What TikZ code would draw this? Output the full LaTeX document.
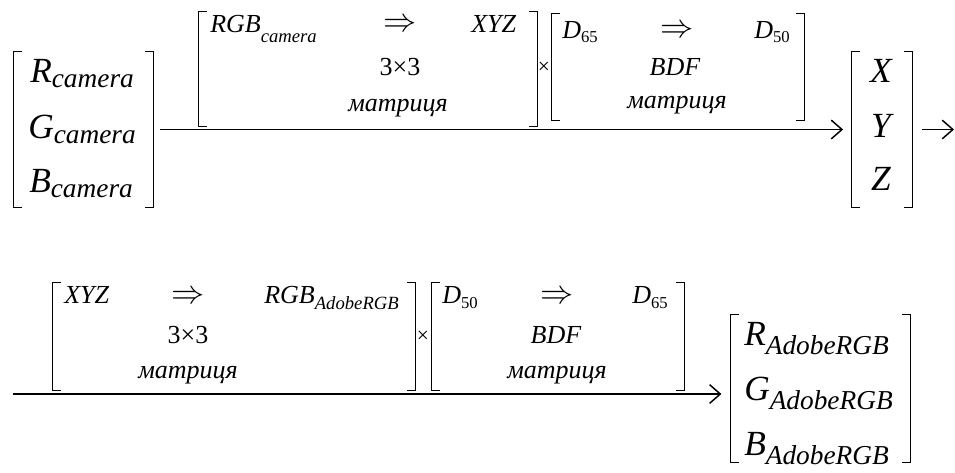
\documentclass[tikz,border=0pt]{standalone}
\usepackage{fontspec}
\setmainfont{Liberation Serif}
\usetikzlibrary{arrows.meta,fit}
\tikzset{
  brk/.style={line width=0.9pt},
  arr/.style={line width=1.1pt, -{Straight Barb[length=8pt,width=14pt]}},
  grp/.style={inner sep=0pt},
  ent/.style={inner sep=0pt, anchor=base west},
  entc/.style={inner sep=0pt, anchor=base},
  big/.style={font=\fontsize{26.5}{28}\selectfont\itshape},
  sml/.style={font=\fontsize{19.5}{21}\selectfont\itshape},
  num/.style={font=\fontsize{19.5}{21}\selectfont\upshape},
}
\newcommand\vsub[2][4pt]{\raisebox{-#1}{\fontsize{20.5}{21}\selectfont #2}}
\newcommand\msub[2][5pt]{\raisebox{-#1}{\fontsize{14}{15}\selectfont #2}}
\newcommand\nsub[2][3pt]{\raisebox{-#1}{\fontsize{12.5}{13}\selectfont\upshape #2}}
\newcommand\imp{\scalebox{1.2}{$\Rightarrow$}}
\newcommand\brackets[1]{%
  \draw[brk] ([xshift=6pt]#1.north west) -| (#1.south west) -- ++(6pt,0pt);
  \draw[brk] ([xshift=-6pt]#1.north east) -| (#1.south east) -- ++(-6pt,0pt);}
\begin{document}
\begin{tikzpicture}[x=0.75pt, y=-0.75pt]
\useasboundingbox (0,0) rectangle (955,472);
% first line
\node[grp, fit={(14,52) (153,207)}](cam){};
\node[ent, big](rc)at(30,82){R\vsub{camera}};
\node[ent, big](gc)at(28,138){G\vsub{camera}};
\node[ent, big](bc)at(29,192){B\vsub{camera}};
\brackets{cam}
%
\node[grp, fit={(199,12) (537,126)}](m1){};
\node[ent, sml](m1a)at(210,32){RGB\msub[7.5pt]{camera}};
\node[sml, inner sep=0pt](m1b)at(400,25){\imp};
\node[ent, sml](m1c)at(471,32){XYZ};
\node[entc, num](m1d)at(400,75){3×3};
\node[entc, sml](m1e)at(398,111){матриця};
\brackets{m1}
%
\node[inner sep=0pt](t1)at(544,68){\fontsize{16}{16}\selectfont ×};
%
\node[grp, fit={(552,14) (804,120)}](m2){};
\node[ent, sml](m2a)at(562,38){D\nsub{65}};
\node[sml, inner sep=0pt](m2b)at(677,31){\imp};
\node[ent, sml](m2c)at(754,38){D\nsub{50}};
\node[entc, sml](m2d)at(675,75){BDF};
\node[entc, sml](m2e)at(677,108){матриця};
\brackets{m2}
%
\node[grp, fit={(852,52) (912,207)}](xyz){};
\node[entc, big](x)at(881,82){X};
\node[entc, big](y)at(881,137){Y};
\node[entc, big](z)at(881,190){Z};
\brackets{xyz}
\coordinate (out) at (954,129.5);
%
\draw[arr]([xshift=5pt]cam.east)--([xshift=-6.5pt]xyz.west);
\draw[arr]([xshift=7pt]xyz.east)--(out);
% second line
\node[grp, fit={(53,283) (415,390)}](m3){};
\node[ent, sml](m3a)at(64,303){XYZ};
\node[sml, inner sep=0pt](m3b)at(188,297){\imp};
\node[ent, sml](m3c)at(264,303){RGB\msub{AdobeRGB}};
\node[entc, num](m3d)at(188,343){3×3};
\node[entc, sml](m3e)at(188,378){матриця};
\brackets{m3}
%
\node[inner sep=0pt](t2)at(423,337){\fontsize{16}{16}\selectfont ×};
%
\node[grp, fit={(432,283) (684,390)}](m4){};
\node[ent, sml](m4a)at(442,303){D\nsub[4pt]{50}};
\node[sml, inner sep=0pt](m4b)at(557,297){\imp};
\node[ent, sml](m4c)at(632,303){D\nsub[4pt]{65}};
\node[entc, sml](m4d)at(556,343){BDF};
\node[entc, sml](m4e)at(557,378){матриця};
\brackets{m4}
%
\node[grp, fit={(731,315) (910,462)}](adobe){};
\node[ent, big](ra)at(744,345){R\vsub[7pt]{AdobeRGB}};
\node[ent, big](ga)at(744,400){G\vsub[7pt]{AdobeRGB}};
\node[ent, big](ba)at(744,455){B\vsub[7pt]{AdobeRGB}};
\brackets{adobe}
\coordinate (lead) at (13,394);
%
\draw[arr](lead)--([xshift=-7pt]lead-|adobe.west);
\end{tikzpicture}
\end{document}
